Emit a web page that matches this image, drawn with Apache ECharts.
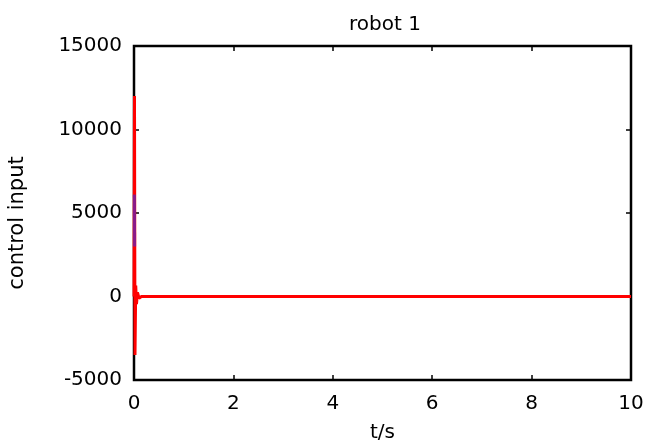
<!DOCTYPE html>
<html>
<head>
<meta charset="utf-8">
<script src="https://cdn.jsdelivr.net/npm/echarts@6/dist/echarts.min.js"></script>
<style>
  html, body { margin: 0; padding: 0; background: #fff; }
  #chart { width: 657px; height: 448px; }
</style>
</head>
<body>
<div id="chart"></div>
<script>
// Control input of robot 1 over time (s)
const timeRed = [0, 0.01, 0.02, 0.035, 0.05, 0.07, 0.1, 0.15, 10];
const inputRed = [0, 12000, -3500, 650, -450, 250, -100, 0, 0];

// Second input channel: its short transient right after start
const timePurple = [0.008, 0.012];
const inputPurple = [6100, 3000];

const xTicks = [0, 2, 4, 6, 8, 10];
const yTicks = [-5000, 0, 5000, 10000, 15000];

const font = 'DejaVu Sans';
const pair = (xs, ys) => xs.map((x, i) => [x, ys[i]]);

const chart = echarts.init(document.getElementById('chart'));

const tickInside = { show: true, inside: true, length: 5, lineStyle: { color: '#000', width: 1.5 } };
const hiddenLine = { show: false, onZero: false };

chart.setOption({
  animation: false,
  backgroundColor: '#fff',
  title: {
    text: 'robot 1',
    left: 380,
    top: 10,
    textAlign: 'center',
    textStyle: { fontFamily: font, fontSize: 20, fontWeight: 'normal', color: '#000' }
  },
  grid: {
    left: 134, right: 26, top: 46, bottom: 68,
    containLabel: false, outerBoundsMode: 'none',
    show: true, borderColor: '#000', borderWidth: 2.5, backgroundColor: '#fff'
  },
  xAxis: [{
    type: 'value',
    min: xTicks[0], max: xTicks[xTicks.length - 1], interval: 2,
    name: 't/s', nameLocation: 'middle', nameGap: 43,
    nameTextStyle: { fontFamily: font, fontSize: 20, color: '#000' },
    axisLine: hiddenLine,
    axisTick: tickInside,
    splitLine: { show: false },
    axisLabel: { fontFamily: font, fontSize: 20, color: '#000', margin: 14 }
  }, {
    type: 'value', position: 'top',
    min: xTicks[0], max: xTicks[xTicks.length - 1], interval: 2,
    axisLine: hiddenLine, axisTick: tickInside,
    axisLabel: { show: false }, splitLine: { show: false }
  }],
  yAxis: [{
    type: 'value',
    min: yTicks[0], max: yTicks[yTicks.length - 1], interval: 5000,
    name: 'control input', nameLocation: 'middle', nameGap: 106, nameRotate: 90,
    nameTextStyle: { fontFamily: font, fontSize: 21, color: '#000', padding: [0, 20, 0, 0] },
    axisLine: hiddenLine,
    axisTick: tickInside,
    splitLine: { show: false },
    axisLabel: { fontFamily: font, fontSize: 20, color: '#000', margin: 12, formatter: v => String(v) }
  }, {
    type: 'value', position: 'right',
    min: yTicks[0], max: yTicks[yTicks.length - 1], interval: 5000,
    axisLine: hiddenLine, axisTick: tickInside,
    axisLabel: { show: false }, splitLine: { show: false }
  }],
  series: [{
    type: 'line',
    data: pair(timeRed, inputRed),
    showSymbol: false,
    lineStyle: { color: '#ff0000', width: 3 },
    z: 3
  }, {
    type: 'line',
    data: pair(timePurple, inputPurple),
    showSymbol: false,
    lineStyle: { color: '#8a1a8a', width: 3 },
    z: 4
  }]
});
</script>
</body>
</html>
